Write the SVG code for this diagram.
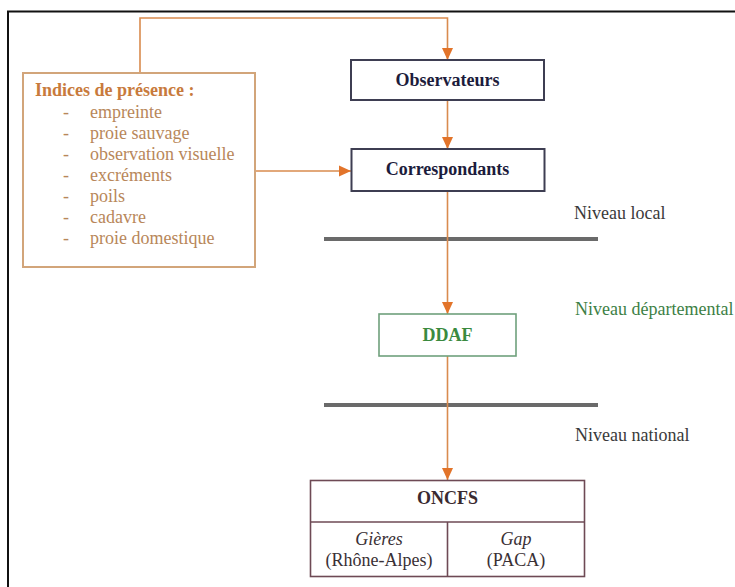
<svg xmlns="http://www.w3.org/2000/svg" width="735" height="587" viewBox="0 0 735 587" font-family="'Liberation Serif', serif" font-size="18">
<style>
text{font-family:'Liberation Serif',serif;font-size:18px}
.b{font-weight:bold}
.c{text-anchor:middle}
.conn{fill:none;stroke:#d98b4e;stroke-width:1.6}
.lvl{stroke:#6a6a6a;stroke-width:4}
.it{fill:#b8875a}
</style>
<defs>
<marker id="ah" markerUnits="userSpaceOnUse" markerWidth="12" markerHeight="12" viewBox="0 0 12 12" refX="12" refY="6" orient="auto">
<path d="M0,0.5 L12,6 L0,11.5 Z" fill="#e2742a"/>
</marker>
</defs>
<rect width="735" height="587" fill="#fff"/>
<g id="frame">
<path d="M8,587 V11.5 H735" fill="none" stroke="#111" stroke-width="2"/>
</g>
<g id="levels">
<line class="lvl" x1="324" y1="239" x2="598" y2="239"/>
<line class="lvl" x1="324" y1="405" x2="598" y2="405"/>
<text x="574" y="219" fill="#3a3a3a">Niveau local</text>
<text x="575" y="315" fill="#3d7f45">Niveau départemental</text>
<text x="575" y="441" fill="#3a3a3a">Niveau national</text>
</g>
<g id="connectors">
<path class="conn" d="M140,73 V18 H447.5 V60" marker-end="url(#ah)"/>
<path class="conn" d="M447.5,100 V149" marker-end="url(#ah)"/>
<path class="conn" d="M255,171 H351" marker-end="url(#ah)"/>
<path class="conn" d="M447.5,191 V314" marker-end="url(#ah)"/>
<path class="conn" d="M447.5,356 V480" marker-end="url(#ah)"/>
</g>
<g id="indices">
<rect x="23" y="73" width="232" height="194" fill="#fff" stroke="#d2a57a" stroke-width="2"/>
<text x="35" y="96" class="b" fill="#c87a3c">Indices de présence :</text>
<g class="it">
<text x="63" y="118">-</text><text x="90" y="118">empreinte</text>
<text x="63" y="139">-</text><text x="90" y="139">proie sauvage</text>
<text x="63" y="160">-</text><text x="90" y="160">observation visuelle</text>
<text x="63" y="181">-</text><text x="90" y="181">excréments</text>
<text x="63" y="202">-</text><text x="90" y="202">poils</text>
<text x="63" y="223">-</text><text x="90" y="223">cadavre</text>
<text x="63" y="244">-</text><text x="90" y="244">proie domestique</text>
</g>
</g>
<g id="observateurs">
<rect x="351" y="60" width="193" height="40" fill="#fff" stroke="#3e3e52" stroke-width="2"/>
<text x="447.5" y="86" class="b c" fill="#1c1c3c">Observateurs</text>
</g>
<g id="correspondants">
<rect x="351.5" y="149" width="193" height="42" fill="#fff" stroke="#3e3e52" stroke-width="2"/>
<text x="447.5" y="175" class="b c" fill="#1c1c3c">Correspondants</text>
</g>
<g id="ddaf">
<rect x="379" y="314" width="137" height="42" fill="#fff" stroke="#6fa07c" stroke-width="1.6"/>
<text x="447.5" y="341" class="b c" fill="#3a8a3f">DDAF</text>
</g>
<g id="oncfs">
<rect x="310.5" y="480.5" width="274" height="96" fill="#fff" stroke="#6e4a55" stroke-width="1.6"/>
<line x1="310.5" y1="522" x2="584.5" y2="522" stroke="#6e4a55" stroke-width="1.6"/>
<line x1="447.5" y1="522" x2="447.5" y2="576.5" stroke="#6e4a55" stroke-width="1.6"/>
<text x="447.5" y="504" class="b c" fill="#3a2a30">ONCFS</text>
<text x="379" y="545" class="c" font-style="italic" fill="#3a3035">Gières</text>
<text x="379" y="566" class="c" fill="#3a3035">(Rhône-Alpes)</text>
<text x="516" y="545" class="c" font-style="italic" fill="#3a3035">Gap</text>
<text x="516" y="566" class="c" fill="#3a3035">(PACA)</text>
</g>
</svg>
